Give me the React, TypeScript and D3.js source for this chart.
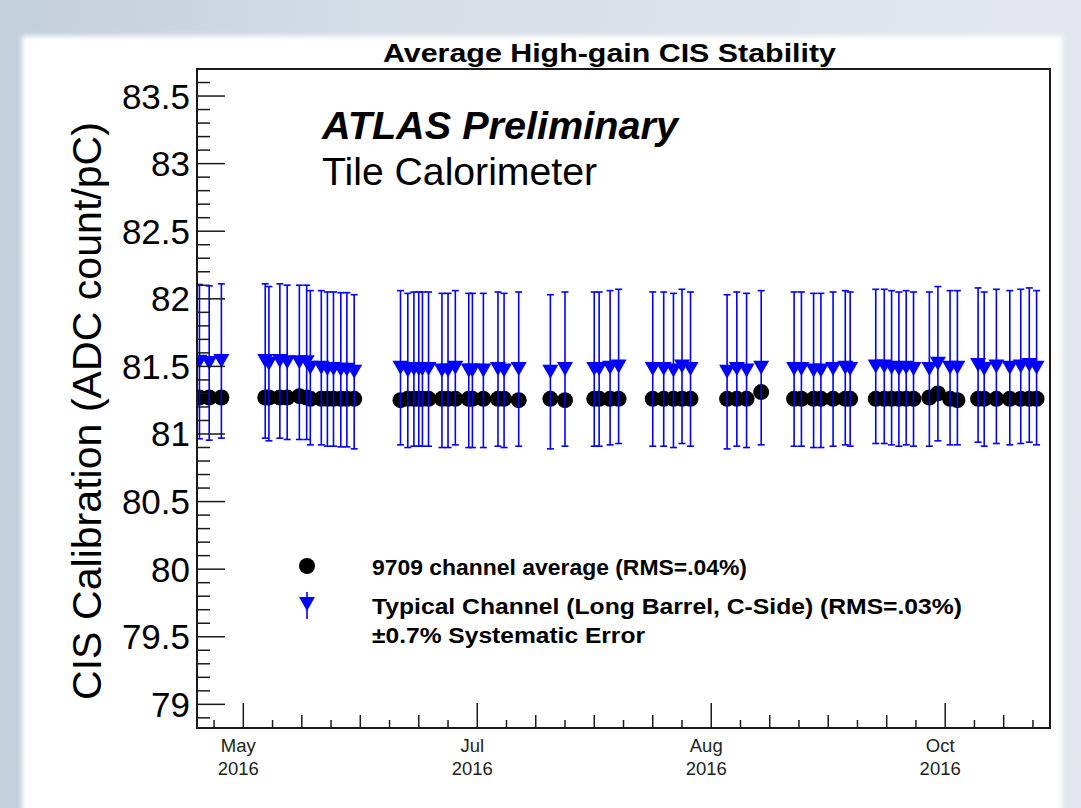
import React from 'react';
import * as d3 from 'd3';

const W = 1081;
const H = 808;

const parseTime = d3.utcParse('%Y-%m-%d %H:%M');

// CIS calibration runs, 2016
const runDates = [
  '2016-05-09 00:00', '2016-05-11 00:00', '2016-05-13 12:00',
  '2016-05-22 12:00', '2016-05-23 06:00', '2016-05-25 12:00', '2016-05-27 00:00', '2016-05-29 12:00',
  '2016-05-31 00:00', '2016-05-31 18:00', '2016-06-03 00:00', '2016-06-04 06:00', '2016-06-05 12:00',
  '2016-06-07 00:00', '2016-06-08 06:00', '2016-06-09 18:00',
  '2016-06-19 06:00', '2016-06-20 18:00', '2016-06-22 00:00', '2016-06-23 00:00', '2016-06-23 18:00',
  '2016-06-25 00:00', '2016-06-27 18:00', '2016-06-29 00:00', '2016-06-30 12:00', '2016-07-03 06:00',
  '2016-07-04 00:00', '2016-07-06 06:00', '2016-07-09 06:00', '2016-07-10 12:00', '2016-07-13 12:00',
  '2016-07-20 00:00', '2016-07-23 00:00',
  '2016-07-29 00:00', '2016-07-30 00:00', '2016-08-01 06:00', '2016-08-03 00:00',
  '2016-08-10 00:00', '2016-08-12 06:00', '2016-08-14 06:00', '2016-08-16 00:00', '2016-08-17 18:00',
  '2016-08-25 06:00', '2016-08-27 06:00', '2016-08-29 06:00', '2016-09-01 06:00',
  '2016-09-08 00:00', '2016-09-09 12:00', '2016-09-12 00:00', '2016-09-13 12:00', '2016-09-16 00:00',
  '2016-09-18 12:00', '2016-09-19 12:00',
  '2016-09-24 18:00', '2016-09-26 12:00', '2016-09-28 00:00', '2016-09-29 12:00', '2016-10-01 00:00',
  '2016-10-02 12:00', '2016-10-05 18:00', '2016-10-07 12:00', '2016-10-10 00:00', '2016-10-11 12:00',
  '2016-10-15 18:00', '2016-10-17 00:00', '2016-10-19 12:00', '2016-10-22 06:00', '2016-10-24 12:00',
  '2016-10-26 06:00', '2016-10-27 18:00',
];

// 9709 channel average (ADC count/pC)
const channelAverage = [
  81.27, 81.27, 81.27,
  81.27, 81.27, 81.27, 81.27, 81.28, 81.27, 81.26, 81.26, 81.26, 81.26, 81.26, 81.26, 81.26,
  81.25, 81.26, 81.26, 81.26, 81.26, 81.26, 81.26, 81.26, 81.26, 81.26, 81.26, 81.26, 81.26, 81.26, 81.25,
  81.26, 81.25,
  81.26, 81.26, 81.26, 81.26,
  81.26, 81.26, 81.26, 81.26, 81.26,
  81.26, 81.26, 81.26, 81.31,
  81.26, 81.26, 81.26, 81.26, 81.26, 81.26, 81.26,
  81.26, 81.26, 81.26, 81.26, 81.26, 81.26, 81.27, 81.30, 81.26, 81.25,
  81.26, 81.26, 81.26, 81.26, 81.26, 81.26, 81.26,
];

// Typical channel, Long Barrel C-side (ADC count/pC)
const typicalChannel = [
  81.535, 81.525, 81.54,
  81.54, 81.52, 81.54, 81.53, 81.53, 81.53, 81.49, 81.49, 81.48, 81.48, 81.475, 81.475, 81.46,
  81.49, 81.47, 81.48, 81.48, 81.48, 81.48, 81.47, 81.47, 81.49, 81.47, 81.47, 81.47, 81.48, 81.47, 81.48,
  81.46, 81.48,
  81.48, 81.48, 81.49, 81.50,
  81.48, 81.48, 81.47, 81.50, 81.48,
  81.46, 81.48, 81.47, 81.49,
  81.48, 81.48, 81.47, 81.47, 81.48, 81.49, 81.48,
  81.50, 81.50, 81.49, 81.48, 81.49, 81.48, 81.48, 81.52, 81.49, 81.49,
  81.51, 81.48, 81.50, 81.49, 81.50, 81.51, 81.49,
];

const systematicFraction = 0.007;

const yMajorTicks = [79, 79.5, 80, 80.5, 81, 81.5, 82, 82.5, 83, 83.5];
const yDomain = [78.825, 83.7];
const xDomain = ['2016-05-08 12:00', '2016-10-30 12:00'];
const xFirstTick = '2016-05-12 00:00';
const xTickStepDays = 6;

const legendLabels = [
  '9709 channel average (RMS=.04%)',
  'Typical Channel (Long Barrel, C-Side) (RMS=.03%)',
  '\u00B10.7% Systematic Error',
];

const FONT = '"Liberation Sans", Arial, Helvetica, sans-serif';
const BLUE = '#0000ff';
const INK = '#1a1a1a';

const frame = { left: 197, right: 1050, top: 69, bottom: 728 };

function triangleDown(cx: number, cy: number, w: number, h: number) {
  return `M${cx - w / 2},${cy - h / 2}L${cx + w / 2},${cy - h / 2}L${cx},${cy + h / 2}Z`;
}

export default function App() {
  const x = d3
    .scaleUtc()
    .domain(xDomain.map((s) => parseTime(s) as Date))
    .range([frame.left, frame.right]);
  const y = d3.scaleLinear().domain(yDomain).range([frame.bottom, frame.top]);

  const dates = runDates.map((s) => parseTime(s) as Date);

  // y ticks every 0.1, major every 0.5
  const yMinor = d3
    .range(Math.ceil(yDomain[0] * 10), Math.floor(yDomain[1] * 10) + 1)
    .map((v) => v / 10)
    .filter((v) => Math.round(v * 10) % 5 !== 0);

  // x ticks every 6 days, major every 8th
  const xTicks: { date: Date; kind: 'major' | 'mid' | 'small' }[] = [];
  const first = parseTime(xFirstTick) as Date;
  const end = x.domain()[1];
  for (let k = 0; ; k++) {
    const d = d3.utcDay.offset(first, k * xTickStepDays);
    if (d > end) break;
    const kind = (k - 1) % 8 === 0 ? 'major' : (k - 1) % 2 === 0 ? 'mid' : 'small';
    xTicks.push({ date: d, kind });
  }
  const tickLen = { major: 25, mid: 13, small: 8 };
  const fmtMonth = d3.utcFormat('%b');
  const fmtYear = d3.utcFormat('%Y');

  return (
    <svg
      width={W}
      height={H}
      viewBox={`0 0 ${W} ${H}`}
      style={{ position: 'absolute', left: 0, top: 0, display: 'block' }}
      fontFamily={FONT}
    >
      <defs>
        <linearGradient id="bg" x1="0" y1="0" x2="1" y2="0">
          <stop offset="0" stopColor="#c2ceda" />
          <stop offset="0.35" stopColor="#d5dde7" />
          <stop offset="1" stopColor="#e3e8ef" />
        </linearGradient>
        <filter id="soft" x="-5%" y="-5%" width="110%" height="110%">
          <feGaussianBlur stdDeviation="2.5" />
        </filter>
        <clipPath id="plot">
          <rect
            x={frame.left}
            y={frame.top}
            width={frame.right - frame.left}
            height={frame.bottom - frame.top}
          />
        </clipPath>
      </defs>

      <rect width={W} height={H} fill="url(#bg)" />
      <rect x={22} y={36} width={1040} height={800} fill="#ffffff" filter="url(#soft)" />

      {/* title */}
      <text
        x={383}
        y={62}
        fontSize={26}
        fontWeight="bold"
        fill="#000"
        textLength={453}
        lengthAdjust="spacingAndGlyphs"
      >
        Average High-gain CIS Stability
      </text>

      {/* data */}
      <g clipPath="url(#plot)">
        {dates.map((d, i) => (
          <circle key={`a${i}`} cx={x(d)} cy={y(channelAverage[i])} r={8} fill="#000" />
        ))}
        {dates.map((d, i) => {
          const v = typicalChannel[i];
          const err = v * systematicFraction;
          const cx = x(d);
          const y0 = y(v - err);
          const y1 = y(v + err);
          return (
            <g key={`t${i}`} stroke={BLUE} strokeWidth={1.6}>
              <line x1={cx} x2={cx} y1={y0} y2={y1} />
              <line x1={cx - 3.5} x2={cx + 3.5} y1={y0} y2={y0} />
              <line x1={cx - 3.5} x2={cx + 3.5} y1={y1} y2={y1} />
              <path d={triangleDown(cx, y(v), 16, 14)} fill={BLUE} stroke="none" />
            </g>
          );
        })}
      </g>

      {/* frame */}
      <rect
        x={frame.left}
        y={frame.top}
        width={frame.right - frame.left}
        height={frame.bottom - frame.top}
        fill="none"
        stroke={INK}
        strokeWidth={2}
      />

      {/* y axis */}
      <g stroke={INK} strokeWidth={1.5}>
        {yMajorTicks.map((v) => (
          <line key={`ym${v}`} x1={frame.left} x2={frame.left + 28} y1={y(v)} y2={y(v)} />
        ))}
        {yMinor.map((v) => (
          <line key={`yn${v}`} x1={frame.left} x2={frame.left + 13} y1={y(v)} y2={y(v)} />
        ))}
      </g>
      {yMajorTicks.map((v) => (
        <text key={`yl${v}`} x={190} y={y(v) + 12.5} fontSize={35} textAnchor="end" fill="#000">
          {String(v)}
        </text>
      ))}
      <text
        transform={`translate(101, 411) rotate(-90)`}
        fontSize={40}
        textAnchor="middle"
        fill="#000"
        textLength={578}
        lengthAdjust="spacingAndGlyphs"
      >
        CIS Calibration (ADC count/pC)
      </text>

      {/* x axis */}
      <g stroke={INK} strokeWidth={1.5}>
        {xTicks.map((t, i) => (
          <line
            key={`xt${i}`}
            x1={x(t.date)}
            x2={x(t.date)}
            y1={frame.bottom}
            y2={frame.bottom - tickLen[t.kind]}
          />
        ))}
      </g>
      {xTicks
        .filter((t) => t.kind === 'major')
        .map((t, i) => (
          <g key={`xl${i}`} fontSize={18.5} fill="#222" textAnchor="middle">
            <text x={x(t.date) - 5} y={752}>
              {fmtMonth(t.date)}
            </text>
            <text x={x(t.date) - 5} y={775}>
              {fmtYear(t.date)}
            </text>
          </g>
        ))}

      {/* labels */}
      <text
        x={322}
        y={139}
        fontSize={38}
        fontWeight="bold"
        fontStyle="italic"
        fill="#000"
        textLength={356}
        lengthAdjust="spacingAndGlyphs"
      >
        ATLAS Preliminary
      </text>
      <text x={322} y={185} fontSize={39} fill="#000" textLength={275} lengthAdjust="spacingAndGlyphs">
        Tile Calorimeter
      </text>

      {/* legend */}
      <circle cx={307} cy={566} r={8} fill="#000" />
      <line x1={307} x2={307} y1={592} y2={619} stroke={BLUE} strokeWidth={1.6} />
      <path d={triangleDown(307, 604, 16, 14)} fill={BLUE} />
      <text x={372} y={575} fontSize={22} fontWeight="bold" fill="#000" textLength={375} lengthAdjust="spacingAndGlyphs">
        {legendLabels[0]}
      </text>
      <text x={372} y={614} fontSize={22} fontWeight="bold" fill="#000" textLength={590} lengthAdjust="spacingAndGlyphs">
        {legendLabels[1]}
      </text>
      <text x={372} y={643} fontSize={22} fontWeight="bold" fill="#000" textLength={273} lengthAdjust="spacingAndGlyphs">
        {legendLabels[2]}
      </text>
    </svg>
  );
}
